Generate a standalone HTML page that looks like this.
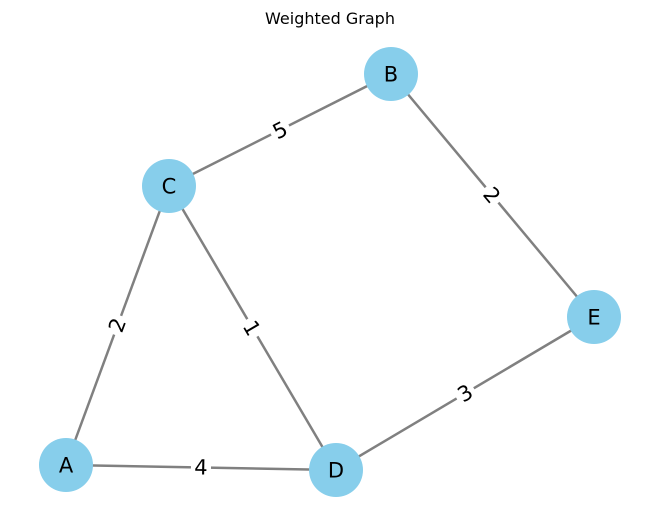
<!DOCTYPE html>
<html><head><style>html,body{margin:0;padding:0;background:#fff;}</style></head>
<body>
<svg width="660" height="522" xmlns="http://www.w3.org/2000/svg" font-family="DejaVu Sans, sans-serif">
<rect width="660" height="522" fill="#fff"/>
<text x="330" y="24" font-size="16" text-anchor="middle">Weighted Graph</text>
<g stroke="#808080" stroke-width="2.5">
<line x1="169" y1="186" x2="391" y2="74"/>
<line x1="391" y1="74" x2="594" y2="317"/>
<line x1="169" y1="186" x2="66" y2="465"/>
<line x1="169" y1="186" x2="336" y2="470"/>
<line x1="66" y1="465" x2="336" y2="470"/>
<line x1="336" y1="470" x2="594" y2="317"/>
</g>
<g font-size="21" text-anchor="middle">
<g transform="translate(280,130) rotate(-26.8)"><rect x="-10" y="-13" width="20" height="26" fill="#fff"/><text y="7.5">5</text></g>
<g transform="translate(492,195) rotate(50)"><rect x="-10" y="-13" width="20" height="26" fill="#fff"/><text y="7.5">2</text></g>
<g transform="translate(117,325) rotate(-69.7)"><rect x="-10" y="-13" width="20" height="26" fill="#fff"/><text y="7.5">2</text></g>
<g transform="translate(252,328) rotate(59.5)"><rect x="-10" y="-13" width="20" height="26" fill="#fff"/><text y="7.5">1</text></g>
<g transform="translate(201,467) rotate(1)"><rect x="-10" y="-13" width="20" height="26" fill="#fff"/><text y="7.5">4</text></g>
<g transform="translate(465,393) rotate(-30.7)"><rect x="-10" y="-13" width="20" height="26" fill="#fff"/><text y="7.5">3</text></g>
</g>
<g fill="#87CEEB">
<circle cx="391" cy="74" r="27"/>
<circle cx="169" cy="186" r="27"/>
<circle cx="594" cy="317" r="27"/>
<circle cx="66" cy="465" r="27"/>
<circle cx="336" cy="470" r="27"/>
</g>
<g font-size="21" text-anchor="middle">
<text x="391" y="81.5">B</text>
<text x="169" y="193.5">C</text>
<text x="594" y="324.5">E</text>
<text x="66" y="472.5">A</text>
<text x="336" y="477.5">D</text>
</g>
</svg>
</body></html>
